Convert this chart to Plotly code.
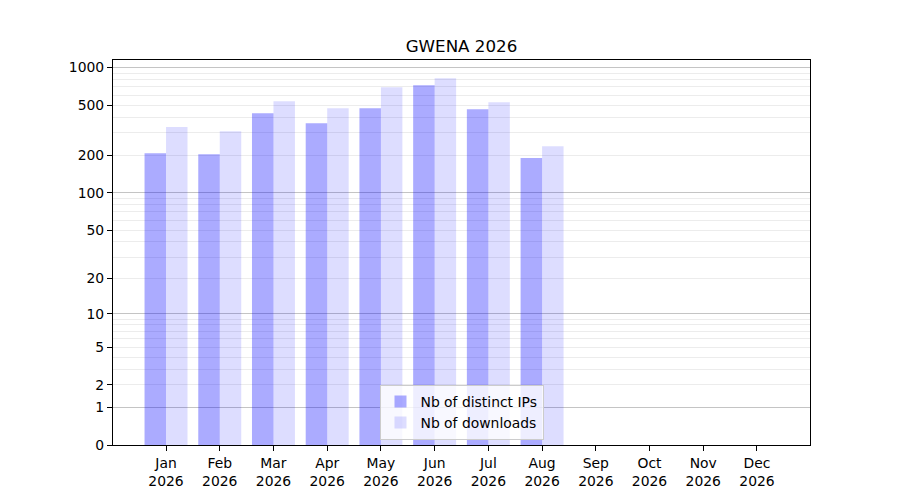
import numpy as np
import plotly.graph_objects as go

months = ["Jan", "Feb", "Mar", "Apr", "May", "Jun", "Jul", "Aug", "Sep", "Oct", "Nov", "Dec"]
year = "2026"
distinct_ips = [207, 203, 431, 359, 472, 719, 464, 189]
downloads = [334, 310, 536, 472, 693, 818, 527, 235]
ytick_labels = [0, 1, 2, 5, 10, 20, 50, 100, 200, 500, 1000]
major_grid = [1, 10, 100, 1000]
minor_grid = [m * d for d in (1, 10, 100) for m in range(2, 10)]


def tr(v):
    return np.log10(1 + np.asarray(v, dtype=float))


x_pos = list(range(len(months)))
font = "DejaVu Sans"

fig = go.Figure()
fig.add_trace(go.Bar(
    x=x_pos[:len(distinct_ips)], y=tr(distinct_ips), name="Nb of distinct IPs",
    width=0.4, offset=-0.4, marker=dict(color="rgba(0,0,255,0.33)", line=dict(width=0)),
))
fig.add_trace(go.Bar(
    x=x_pos[:len(downloads)], y=tr(downloads), name="Nb of downloads",
    width=0.4, offset=0.0, marker=dict(color="rgba(0,0,255,0.135)", line=dict(width=0)),
))
# invisible trace on overlay axis to activate darker major grid
fig.add_trace(go.Scatter(x=[0], y=[0], yaxis="y2", mode="markers",
                         marker=dict(opacity=0), showlegend=False, hoverinfo="skip"))

yrange = [0, 3.058]
fig.update_layout(
    width=892, height=492,
    margin=dict(l=105, r=90, t=52, b=55, autoexpand=False),
    paper_bgcolor="white", plot_bgcolor="white",
    font=dict(family=font, size=13.9, color="black"),
    barmode="overlay",
    title=dict(text="GWENA 2026", x=0.5084, xanchor="center", y=0.9228, yanchor="middle",
               font=dict(family=font, size=16.7, color="black")),
    xaxis=dict(
        range=[-0.987, 11.987], tickmode="array", tickvals=x_pos,
        ticktext=[f"{m}<br>{year}" for m in months],
        showgrid=False, zeroline=False, showline=True, linecolor="black", linewidth=1.1,
        mirror=True, ticks="outside", ticklen=5, tickwidth=1, tickcolor="black",
        tickfont=dict(family=font, size=13.9, color="black"),
    ),
    yaxis=dict(
        range=yrange, tickmode="array", tickvals=list(tr(ytick_labels)),
        ticktext=[str(t) for t in ytick_labels],
        showgrid=False, zeroline=False, showline=True, linecolor="black", linewidth=1.1,
        mirror=True, ticks="outside", ticklen=5, tickwidth=1, tickcolor="black",
        tickfont=dict(family=font, size=13.9, color="black"),
        minor=dict(tickmode="array", tickvals=list(tr(minor_grid)), showgrid=True,
                   gridcolor="rgb(236,236,236)", gridwidth=1, ticks=""),
    ),
    yaxis2=dict(
        overlaying="y", range=yrange, tickmode="array", tickvals=list(tr(major_grid)),
        showticklabels=False, ticks="", showgrid=True, gridcolor="rgb(196,196,196)",
        gridwidth=1, zeroline=False, showline=False,
    ),
    legend=dict(
        x=0.5, xanchor="center", y=0.013, yanchor="bottom",
        bgcolor="rgba(255,255,255,0.8)", bordercolor="rgb(204,204,204)", borderwidth=1,
        font=dict(family=font, size=13.9, color="black"),
    ),
    showlegend=True,
)

fig.write_html("out.html")
